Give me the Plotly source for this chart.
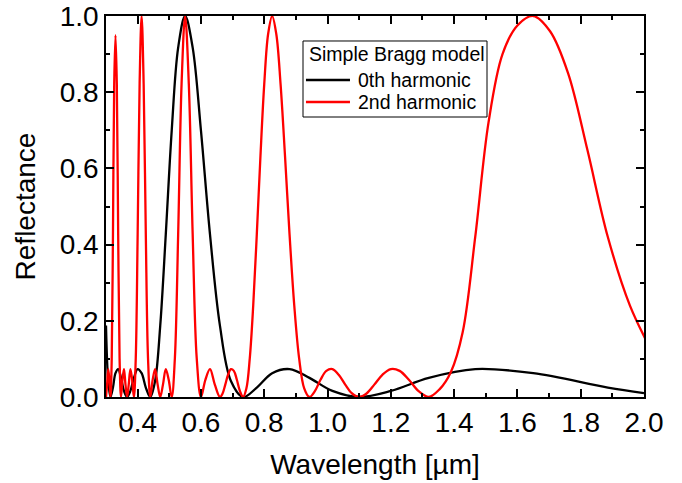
import plotly.graph_objects as go

# wavelength [um] and reflectance
wl_0th = [0.3000, 0.3070, 0.3143, 0.3220, 0.3300, 0.3385, 0.3474, 0.3568, 0.3667,
          0.3771, 0.3882, 0.4000, 0.4125, 0.4258, 0.4400, 0.4552, 0.4714, 0.4889,
          0.5077, 0.5280, 0.5500, 0.5739, 0.6000, 0.6286, 0.6600, 0.6947, 0.7333,
          0.7765, 0.8250, 0.8800, 0.9429, 1.0154, 1.1000, 1.2000, 1.3200, 1.4667,
          1.6500, 1.8857, 2.0000]
r_0th = [0.1875, 0.0422, 0.0, 0.0248, 0.0625, 0.0732, 0.0502, 0.0159, 0.0,
         0.0159, 0.0502, 0.0732, 0.0625, 0.0248, 0.0, 0.0422, 0.1875, 0.4268,
         0.6998, 0.9171, 1.0, 0.9171, 0.6998, 0.4268, 0.1875, 0.0422, 0.0,
         0.0248, 0.0625, 0.0732, 0.0502, 0.0159, 0.0, 0.0159, 0.0502, 0.0732,
         0.0625, 0.0248, 0.0104]

wl_2nd = [0.3000, 0.3034, 0.3070, 0.3106, 0.3143, 0.3181, 0.3220, 0.3259, 0.3300,
          0.3342, 0.3385, 0.3429, 0.3474, 0.3520, 0.3568, 0.3616, 0.3667, 0.3718,
          0.3771, 0.3826, 0.3882, 0.3940, 0.4000, 0.4062, 0.4125, 0.4190, 0.4258,
          0.4328, 0.4400, 0.4475, 0.4552, 0.4632, 0.4714, 0.4800, 0.4889, 0.4981,
          0.5077, 0.5176, 0.5280, 0.5388, 0.5500, 0.5617, 0.5739, 0.5867, 0.6000,
          0.6140, 0.6286, 0.6439, 0.6600, 0.6684, 0.6769, 0.6857, 0.6947, 0.7040,
          0.7135, 0.7233, 0.7333, 0.7437, 0.7543, 0.7652, 0.7765, 0.7881, 0.8000,
          0.8123, 0.8250, 0.8381, 0.8516, 0.8656, 0.8800, 0.8949, 0.9103, 0.9263,
          0.9429, 0.9600, 0.9778, 0.9962, 1.0154, 1.0353, 1.0560, 1.0776, 1.1000,
          1.1234, 1.1478, 1.1733, 1.2000, 1.2279, 1.2571, 1.2878, 1.3200, 1.3538,
          1.3895, 1.4270, 1.4667, 1.5086, 1.5529, 1.6000, 1.6500, 1.7032, 1.7600,
          1.8207, 1.8857, 1.9556, 2.0308]
r_2nd = [0.0, 0.0325, 0.0732, 0.0452, 0.0, 0.1012, 0.4268, 0.8211, 0.95,
         0.8211, 0.4268, 0.1012, 0.0, 0.0452, 0.0732, 0.0325, 0.0, 0.0325,
         0.0732, 0.0452, 0.0, 0.1012, 0.4268, 0.8211, 1.0, 0.8211, 0.4268,
         0.1012, 0.0, 0.0452, 0.0732, 0.0325, 0.0, 0.0325, 0.0732, 0.0452,
         0.0, 0.1012, 0.4268, 0.8211, 1.0, 0.8211, 0.4268, 0.1012, 0.0,
         0.0452, 0.0732, 0.0325, 0.0, 0.0092, 0.0325, 0.0583, 0.0732, 0.0686,
         0.0452, 0.0153, 0.0, 0.0227, 0.1012, 0.2401, 0.4268, 0.6331, 0.8211,
         0.9527, 1.0, 0.9527, 0.8211, 0.6331, 0.4268, 0.2401, 0.1012, 0.0227,
         0.0, 0.0153, 0.0452, 0.0686, 0.0732, 0.0583, 0.0325, 0.0092, 0.0,
         0.0092, 0.0325, 0.0583, 0.0732, 0.0686, 0.0452, 0.0153, 0.0, 0.02,
         0.065, 0.17, 0.42, 0.72, 0.90, 0.975, 1.0, 0.96, 0.85,
         0.65, 0.42, 0.24, 0.11]

legend_title = "Simple Bragg model"
names = ["0th harmonic", "2nd harmonic"]
colors = ["black", "red"]

font = "Liberation Sans, Arial, sans-serif"

fig = go.Figure()
fig.add_trace(go.Scatter(x=wl_0th, y=r_0th, mode="lines", name=names[0],
                         line=dict(color=colors[0], width=2.3, shape="spline")))
fig.add_trace(go.Scatter(x=wl_2nd, y=r_2nd, mode="lines", name=names[1],
                         line=dict(color=colors[1], width=2.3, shape="spline")))

axis_style = dict(
    showline=True, linecolor="black", linewidth=1.5, mirror="ticks",
    ticks="inside", ticklen=8, tickwidth=1.5, tickcolor="black",
    showgrid=False, zeroline=False, tickformat=".1f", automargin=False,
    tickfont=dict(family=font, size=28, color="black"),
    minor=dict(ticks="inside", ticklen=4, tickwidth=1.5, tickcolor="black", dtick=0.1),
)

fig.update_xaxes(range=[0.3, 2.0], tick0=0.4, dtick=0.2,
                 title=dict(text="Wavelength [µm]", standoff=17,
                            font=dict(family=font, size=28, color="black")),
                 **axis_style)
fig.update_yaxes(range=[0, 1.0], tick0=0, dtick=0.2,
                 title=dict(text="Reflectance", standoff=16,
                            font=dict(family=font, size=28, color="black")),
                 **axis_style)

# legend box drawn by hand so the row spacing matches
fig.add_shape(type="rect", xref="paper", yref="paper", x0=0.3662, x1=0.7082,
              y0=0.7349, y1=0.9344, line=dict(color="black", width=1),
              fillcolor="white", layer="above")
fig.add_annotation(xref="paper", yref="paper", x=0.3736, y=0.9003, text=legend_title,
                   showarrow=False, xanchor="left", yanchor="middle",
                   font=dict(family=font, size=19.5, color="black"))
for i, (nm, c) in enumerate(zip(names, colors)):
    yy = 0.8320 - i * 0.0577
    fig.add_shape(type="line", xref="paper", yref="paper", x0=0.3717, x1=0.4535,
                  y0=yy, y1=yy, line=dict(color=c, width=2.3), layer="above")
    fig.add_annotation(xref="paper", yref="paper", x=0.4647, y=yy, text=nm,
                       showarrow=False, xanchor="left", yanchor="middle",
                       font=dict(family=font, size=19.5, color="black"))

fig.update_layout(
    width=682, height=483,
    margin=dict(l=106, r=38, t=16, b=86, autoexpand=False),
    plot_bgcolor="white", paper_bgcolor="white",
    font=dict(family=font, color="black"),
    showlegend=False,
)

# drop the default page margin so the figure sits at the window corner
fig.write_html("out.html", config={"displayModeBar": False},
               post_script="document.body.style.margin='0';")
